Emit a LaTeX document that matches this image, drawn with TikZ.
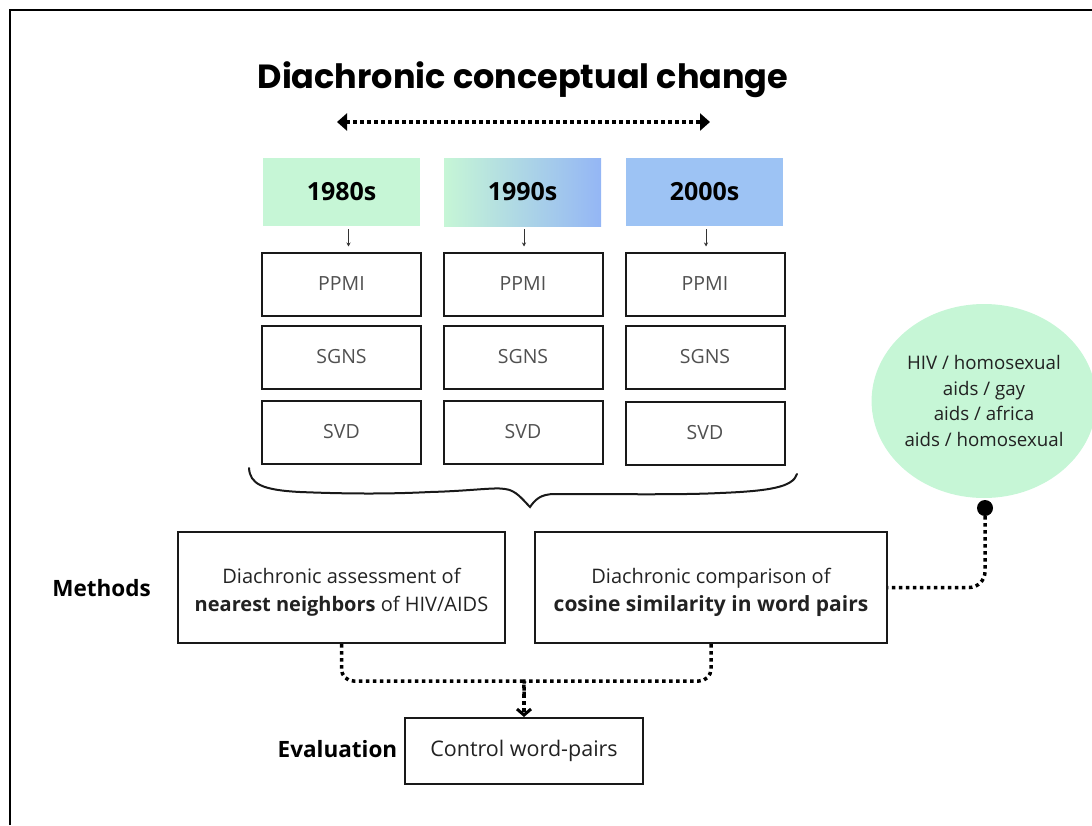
\documentclass[tikz,border=0pt]{standalone}
\usepackage{fontspec}
\setmainfont{Open Sans}
\newfontfamily\pop{Poppins}
\usetikzlibrary{arrows.meta,shapes.geometric,calc}
\definecolor{mint}{HTML}{C6F6D6}
\definecolor{skyb}{HTML}{9DC3F4}
\definecolor{skyc}{HTML}{94B6F5}
\definecolor{txt}{HTML}{222222}
\definecolor{ltxt}{HTML}{505050}
\begin{document}
\begin{tikzpicture}[x=1pt,y=-1pt,
  yearbox/.style={minimum width=157pt, minimum height=68pt, inner sep=0pt, font=\fontsize{25}{28}\selectfont\bfseries, text=black},
  mbox/.style={draw=black!90, line width=2pt, minimum width=159pt, minimum height=63pt, inner sep=0pt, font=\fontsize{19.5}{22}\selectfont, text=ltxt},
  bigbox/.style={draw=black!90, line width=2pt, inner sep=0pt, align=center, font=\fontsize{20}{27}\selectfont, text=txt},
  lbl/.style={font=\fontsize{22.5}{26}\selectfont\bfseries, text=black, inner sep=0pt},
  dotline/.style={line width=3.5pt, dash pattern=on 3.5pt off 3.5pt, black},
  smallarrow/.style={line width=1pt, black!80, -{Stealth[length=4pt,width=4pt]}}
]
\useasboundingbox (0,0) rectangle (1092,825);
% outer frame
\coordinate (f1) at (10,825);
\coordinate (f2) at (10,10);
\coordinate (f3) at (1092,10);
\draw[line width=2pt] (f1) -- (f2) -- (f3);

% title
\node[font=\pop\fontsize{33.5}{38}\selectfont\bfseries, inner sep=0pt] (title) at (523,80) {Diachronic conceptual change};
\coordinate (al) at (337,122);
\coordinate (ar) at (710,122);
\draw[dotline, {Triangle[length=10pt,width=17pt]}-{Triangle[length=10pt,width=17pt]}] (al) -- (ar);

% year boxes
\node[yearbox, fill=mint] (y1) at (341.5,192) {1980s};
\node[yearbox, left color=mint, right color=skyc] (y2) at (522.5,192) {1990s};
\node[yearbox, fill=skyb] (y3) at (704.5,192) {2000s};

% method boxes
\node[mbox] (p1) at (341.5,284) {PPMI};
\node[mbox] (p2) at (523,284) {PPMI};
\node[mbox] (p3) at (705,284) {PPMI};
\node[mbox] (s1) at (341.5,357) {SGNS};
\node[mbox] (s2) at (523,357) {SGNS};
\node[mbox] (s3) at (705,357) {SGNS};
\node[mbox] (v1) at (341.5,432) {SVD};
\node[mbox] (v2) at (523,432) {SVD};
\node[mbox] (v3) at (705,433) {SVD};

\draw[smallarrow, shorten <=3pt, shorten >=5pt] ([xshift=7pt]y1.south) -- ([xshift=7pt]p1.north);
\draw[smallarrow, shorten <=3pt, shorten >=5pt] ([xshift=1.5pt]y2.south) -- ([xshift=1pt]p2.north);
\draw[smallarrow, shorten <=3pt, shorten >=5pt] ([xshift=1.5pt]y3.south) -- ([xshift=1pt]p3.north);

% brace
\coordinate (b1) at (249,468);
\coordinate (bt) at (530,507);
\coordinate (b2) at (797,474);
\draw[line width=2pt, black!90, line cap=round]
  (b1) .. controls (250,484) and (262,490) .. (300,492)
  .. controls (350,494) and (390,494) .. (430,492)
  .. controls (470,491) and (495,487) .. (505,489)
  .. controls (516,490) and (523,500) .. (bt)
  .. controls (535,500) and (540,494) .. (555,494)
  .. controls (620,494) and (680,495) .. (720,493)
  .. controls (770,491) and (793,487) .. (b2);

% labels
\node[lbl] (meth) at (101.5,588) {Methods};
\node[lbl] (eval) at (337.5,749) {Evaluation};

% big boxes
\node[bigbox, minimum width=327pt, minimum height=111pt] (lm) at (341.5,587.5)
  {\rule{0pt}{25pt}Diachronic assessment of\\[1pt]\textbf{nearest neighbors} of HIV/AIDS};
\node[bigbox, minimum width=352pt, minimum height=111pt] (rm) at (711,587.5)
  {\rule{0pt}{25pt}Diachronic comparison of\\[1pt]{\fontsize{21}{27}\selectfont\bfseries cosine similarity in word pairs}};
\node[bigbox, minimum width=238pt, minimum height=66pt, font=\fontsize{21.5}{26}\selectfont] (cw) at (524,751)
  {Control word-pairs};

% ellipse
\node[ellipse, fill=mint, minimum width=214pt, minimum height=194pt, inner sep=0pt,
  align=center, text=txt, font=\fontsize{18.7}{25.5}\selectfont] (ell) at (984,401)
  {HIV / homosexual\\aids / gay\\aids / africa\\aids / homosexual};

% connectors
\coordinate (j) at (524,681);
\coordinate (jl) at (511,681);
\coordinate (jr) at (537,681);
\coordinate (jb) at (524,694);
\draw[dotline, rounded corners=12pt] (lm.south) |- (jl) .. controls (j) .. (jb);
\draw[dotline, rounded corners=12pt] (rm.south) |- (jr) .. controls (j) .. (jb);
\draw[dotline, -{Straight Barb[length=6pt,width=14pt,line width=3pt]}] (jb) -- (cw.north);

\node[circle, fill=black, minimum size=16pt, inner sep=0pt] (dot) at (985,508) {};
\draw[dotline, rounded corners=16pt] (dot.south) |- (rm.east);
\end{tikzpicture}
\end{document}
